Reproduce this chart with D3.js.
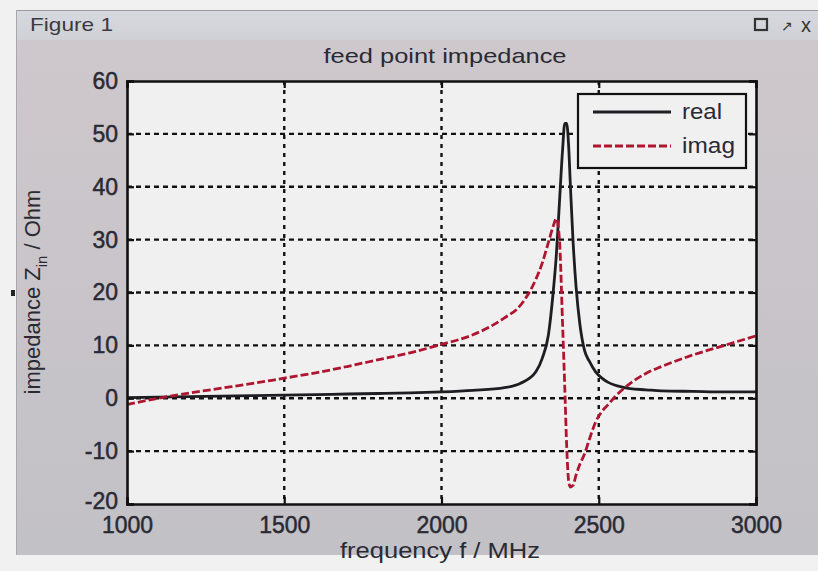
<!DOCTYPE html>
<html><head><meta charset="utf-8">
<script src="https://cdn.jsdelivr.net/npm/d3@7"></script>
<style>
html,body{margin:0;padding:0;background:#f3f3f3;}
svg{display:block;font-family:"Liberation Sans",Arial,sans-serif;}
</style></head>
<body>
<svg id="c" width="818" height="571"></svg>
<script>
// ---- data ----
const freq = [1000,1100,1200,1300,1400,1500,1600,1700,1800,1900,2000,2100,2200,2250,2300,2320,2340,2355,2365,2375,2385,2392,2398,2404,2410,2418,2428,2440,2455,2470,2490,2510,2530,2550,2575,2600,2650,2700,2800,2900,3000];
const realZ = [0.1,0.2,0.3,0.4,0.5,0.6,0.7,0.8,0.9,1.0,1.2,1.5,2.0,2.8,5.0,7.5,12,20,27,37,47,52,52,48,40,30,21,14,9,7,5,3.8,3,2.5,2.1,1.8,1.6,1.4,1.3,1.2,1.2];
const imagZ = [-1.2,0,1,1.9,2.8,3.8,4.8,6.0,7.3,8.6,10.2,12,15.2,17.5,22.5,25.5,29.5,32.5,34,30,14,2,-9,-15.5,-16.8,-16.5,-14.5,-12.5,-10.5,-7.8,-4.5,-2.5,-1.2,0.2,1.6,2.8,4.7,6.0,8.2,10,11.8];
const xTicks = [1000,1500,2000,2500,3000];
const yTicks = [-20,-10,0,10,20,30,40,50,60];
const seriesNames = ["real","imag"];
const titleText = "feed point impedance";
const xLabel = "frequency f / MHz";
const windowTitle = "Figure 1";

const svg = d3.select("#c");
const ink = "#2a2a34";

// window frame
svg.append("rect").attr("x",0).attr("y",0).attr("width",818).attr("height",571).attr("fill","#f1f1f1");
const defs = svg.append("defs");
const grad = defs.append("linearGradient").attr("id","bg").attr("x1",0).attr("y1",0).attr("x2",0).attr("y2",1);
grad.append("stop").attr("offset","0%").attr("stop-color","#cfc8cc");
grad.append("stop").attr("offset","100%").attr("stop-color","#c2c1c6");
const tb = defs.append("linearGradient").attr("id","tb").attr("x1",0).attr("y1",0).attr("x2",0).attr("y2",1);
tb.append("stop").attr("offset","0%").attr("stop-color","#d6d9df");
tb.append("stop").attr("offset","100%").attr("stop-color","#d0d1d6");
svg.append("rect").attr("x",16).attr("y",10).attr("width",802).attr("height",545).attr("fill","url(#bg)");
svg.append("rect").attr("x",16).attr("y",10).attr("width",802).attr("height",30).attr("fill","url(#tb)");
svg.append("line").attr("x1",16).attr("x2",818).attr("y1",10.5).attr("y2",10.5).attr("stroke","#9a9a9e");
svg.append("line").attr("x1",16.5).attr("x2",16.5).attr("y1",10).attr("y2",555).attr("stroke","#a8a8ac");
svg.append("rect").attr("x",11).attr("y",290).attr("width",4).attr("height",6).attr("fill","#222");
svg.append("text").attr("x",30).attr("y",31).attr("font-size",19).attr("fill","#3a3a44")
  .attr("textLength",83).attr("lengthAdjust","spacingAndGlyphs").text(windowTitle);
// window icons
svg.append("rect").attr("x",755).attr("y",19).attr("width",12).attr("height",11).attr("fill","none").attr("stroke","#333").attr("stroke-width",2.2);
svg.append("text").attr("x",781).attr("y",31).attr("font-size",14).attr("fill","#333").text("↗");
svg.append("text").attr("x",801).attr("y",32).attr("font-size",20).attr("fill","#333").text("x");

// plot area
const L=127, R=756, T=81, B=504;
const x = d3.scaleLinear().domain([1000,3000]).range([L,R]);
const y = d3.scaleLinear().domain([-20,60]).range([B,T]);

svg.append("rect").attr("x",L).attr("y",T).attr("width",R-L).attr("height",B-T).attr("fill","#f0f0f0");

// grid
const g = svg.append("g");
g.selectAll(".gx").data(xTicks.slice(1,-1)).join("line")
  .attr("x1",d=>x(d)).attr("x2",d=>x(d)).attr("y1",T).attr("y2",B)
  .attr("stroke","#111").attr("stroke-width",2.4).attr("stroke-dasharray","4,5");
g.selectAll(".gy").data(yTicks.slice(1,-1)).join("line")
  .attr("x1",L).attr("x2",R).attr("y1",d=>y(d)).attr("y2",d=>y(d))
  .attr("stroke","#111").attr("stroke-width",2.4).attr("stroke-dasharray","5,4");

// curves
const line = d3.line().x(d=>x(d[0])).y(d=>y(d[1])).curve(d3.curveMonotoneX);
svg.append("path").datum(freq.map((f,i)=>[f,realZ[i]])).attr("d",line)
  .attr("fill","none").attr("stroke","#1e1e22").attr("stroke-width",2.8);
svg.append("path").datum(freq.map((f,i)=>[f,imagZ[i]])).attr("d",line)
  .attr("fill","none").attr("stroke","#b01530").attr("stroke-width",2.8).attr("stroke-dasharray","8,3");

// axes
const axB = d3.axisBottom(x).tickValues(xTicks).tickSize(-7).tickPadding(13).tickFormat(d3.format("d"));
const axL = d3.axisLeft(y).tickValues(yTicks).tickSize(-7).tickPadding(9).tickFormat(d=>String(d));
const axT = d3.axisTop(x).tickValues(xTicks).tickSize(-7).tickFormat("");
const axR = d3.axisRight(y).tickValues(yTicks).tickSize(-7).tickFormat("");
function style(sel){
  sel.select(".domain").attr("stroke","#111").attr("stroke-width",2.6);
  sel.selectAll(".tick line").attr("stroke","#111").attr("stroke-width",2.2);
  sel.selectAll(".tick text").attr("font-size",23).attr("fill",ink).attr("stroke",ink).attr("stroke-width",0.5)
     .attr("font-family","'Liberation Sans',Arial,sans-serif");
}
svg.append("g").attr("transform",`translate(0,${B})`).call(axB).call(style);
const gl = svg.append("g").attr("transform",`translate(${L},0)`).call(axL).call(style);
// bottom y label sits slightly raised, as in the reference
gl.selectAll(".tick text").filter(d=>d===-20).attr("dy","0.2em");
svg.append("g").attr("transform",`translate(0,${T})`).call(axT).call(style);
svg.append("g").attr("transform",`translate(${R},0)`).call(axR).call(style);

// titles
svg.append("text").attr("x",445).attr("y",63).attr("text-anchor","middle").attr("font-size",21).attr("fill",ink)
  .attr("textLength",243).attr("lengthAdjust","spacingAndGlyphs").text(titleText);
svg.append("text").attr("x",440).attr("y",558).attr("text-anchor","middle").attr("font-size",22).attr("fill",ink)
  .attr("textLength",200).attr("lengthAdjust","spacingAndGlyphs").text(xLabel);
const yl = svg.append("text").attr("transform","translate(40,292) rotate(-90)").attr("text-anchor","middle").attr("font-size",22).attr("fill",ink);
yl.append("tspan").text("impedance Z");
yl.append("tspan").attr("font-size",15).attr("dy",7).text("in");
yl.append("tspan").attr("dy",-7).text(" / Ohm");

// legend
const lg = svg.append("g");
lg.append("rect").attr("x",578).attr("y",94).attr("width",168).attr("height",74).attr("fill","#f0f0f0").attr("stroke","#111").attr("stroke-width",2.2);
const lgs = [{n:seriesNames[0],c:"#1e1e22",d:null,w:40},{n:seriesNames[1],c:"#b01530",d:"8,3",w:53}];
lgs.forEach((s,i)=>{
  const yy = 112 + i*34;
  lg.append("line").attr("x1",593).attr("x2",671).attr("y1",yy).attr("y2",yy).attr("stroke",s.c).attr("stroke-width",2.8).attr("stroke-dasharray",s.d);
  lg.append("text").attr("x",682).attr("y",yy+7).attr("font-size",22).attr("fill",ink)
    .attr("textLength",s.w).attr("lengthAdjust","spacingAndGlyphs").text(s.n);
});
</script>
</body></html>
